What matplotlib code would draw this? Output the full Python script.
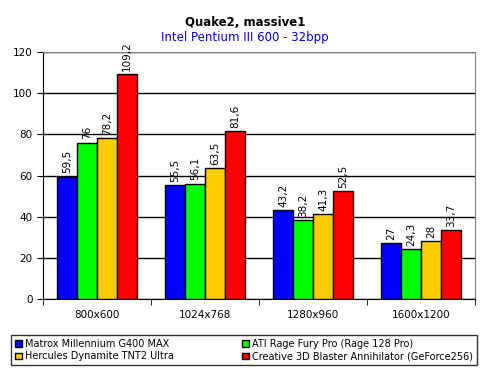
import numpy as np
import matplotlib.pyplot as plt

categories = ['800x600', '1024x768', '1280x960', '1600x1200']
series = ['Matrox Millennium G400 MAX', 'ATI Rage Fury Pro (Rage 128 Pro)',
          'Hercules Dynamite TNT2 Ultra', 'Creative 3D Blaster Annihilator (GeForce256)']
values = [
    [59.5, 55.5, 43.2, 27],
    [76, 56.1, 38.2, 24.3],
    [78.2, 63.5, 41.3, 28],
    [109.2, 81.6, 52.5, 33.7],
]
colors = ['#0000ff', '#00ff00', '#ffcc00', '#ff0000']

plt.rcParams['font.family'] = ['DejaVu Sans']
plt.rcParams['font.size'] = 7.5

fig = plt.figure(figsize=(4.9, 3.77), dpi=100)
ax = fig.add_axes([43 / 490, 1 - 299 / 377, 432 / 490, 247 / 377])

x = np.arange(len(categories))
w = 0.185
bars = []
for i, (name, vals) in enumerate(zip(series, values)):
    pos = x + (i - 1.5) * w
    bars.append(ax.bar(pos, vals, w, color=colors[i], edgecolor='black', linewidth=1,
                       label=name, zorder=3))
    for p, v in zip(pos, vals):
        label = ('%g' % v).replace('.', ',')
        ax.text(p, v + 1.5, label, rotation=90, ha='center', va='bottom', fontsize=7.5, zorder=4)

ax.set_xlim(-0.5, len(categories) - 0.5)
ax.set_ylim(0, 120)
ax.set_yticks(range(0, 121, 20))
ax.set_xticks(x)
ax.set_xticklabels(categories)
ax.set_xticks(np.arange(-0.5, len(categories)), minor=True)
ax.tick_params(axis='x', which='major', length=0, pad=8)
ax.tick_params(axis='x', which='minor', length=4, direction='out', color='black')
ax.tick_params(axis='y', length=4, direction='out', color='black')
ax.yaxis.grid(True, color='black', linewidth=1, zorder=0)
for s in ['top', 'right']:
    ax.spines[s].set_color('#808080')
for s in ['left', 'bottom']:
    ax.spines[s].set_color('black')

fig.text(0.5, 1 - 22 / 377, 'Quake2, massive1', ha='center', va='center',
         fontsize=8.5, fontweight='bold')
fig.text(0.5, 1 - 37 / 377, 'Intel Pentium III 600 - 32bpp', ha='center', va='center',
         fontsize=8.5, color='#0000ff')

# row-major order in a 2-column legend
order = [0, 2, 1, 3]
leg = fig.legend([bars[i] for i in order], [series[i] for i in order],
                 loc='center', bbox_to_anchor=(244 / 490, 1 - 350 / 377), ncol=2,
                 frameon=True, fancybox=False, edgecolor='black', fontsize=7,
                 handlelength=0.7, handleheight=0.7, handletextpad=0.3,
                 columnspacing=7, borderpad=0.4, labelspacing=0.3)
leg.get_frame().set_linewidth(1)

fig.savefig('out.png', dpi=100)
